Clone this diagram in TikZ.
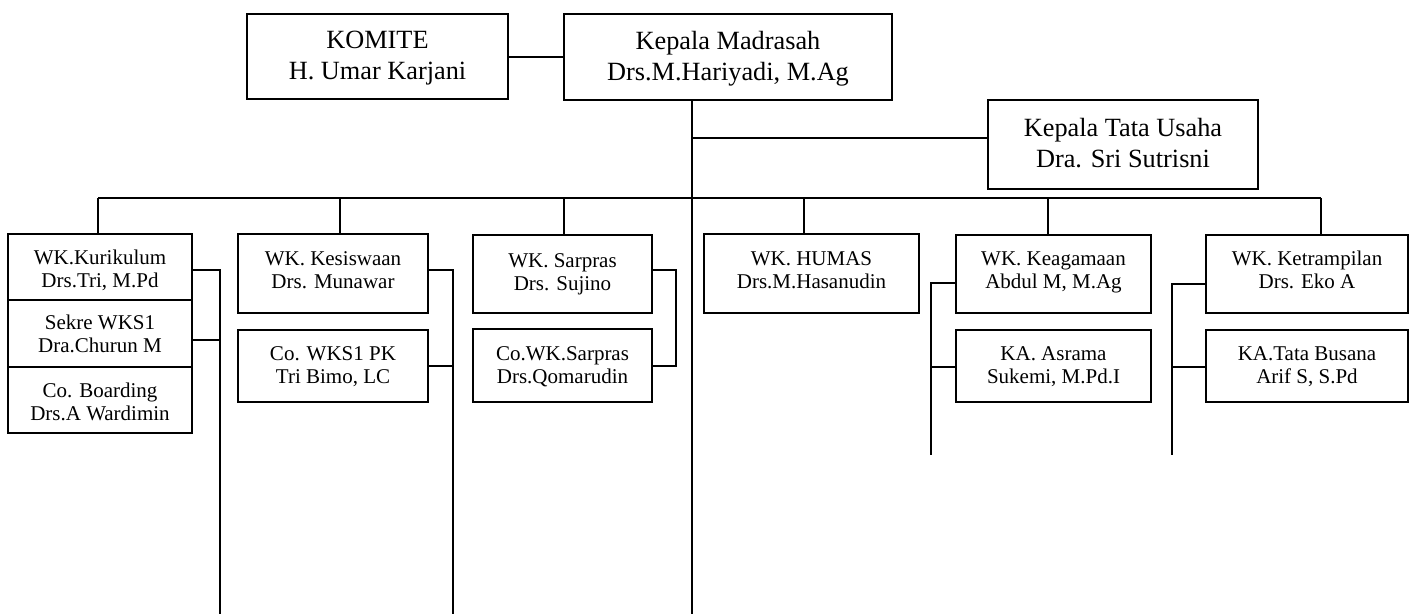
\documentclass[tikz,border=0pt]{standalone}
\usepackage{fontspec}
\setmainfont{Liberation Serif}
\tikzset{
  boxbase/.style={draw, line width=1.6pt, align=center, inner xsep=0pt, inner ysep=0pt, anchor=north},
  big/.style 2 args={boxbase, text height=#1, text depth=#2,
    font=\fontsize{26.3}{31.7}\selectfont},
  small/.style 2 args={boxbase, text height=#1, text depth=#2,
    font=\fontsize{21}{23.5}\selectfont},
  conn/.style={line width=1.6pt},
}
\begin{document}
\begin{tikzpicture}[x=1pt,y=-1pt]
\useasboundingbox (0,0) rectangle (1414,614);
% top level
\node[big={66pt}{19pt}, minimum width=261pt] (kom) at (377.5,13) {KOMITE\\H. Umar Karjani};
\node[big={67pt}{19pt}, minimum width=328pt] (kep) at (728,13) {Kepala Madrasah\\Drs.M.Hariyadi, M.Ag};
\node[big={68pt}{21pt}, minimum width=270pt] (ktu) at (1123,99) {Kepala Tata Usaha\\Dra. Sri Sutrisni};
% second level
\node[small={54pt}{12pt}, minimum width=184pt] (kur) at (100,233) {WK.Kurikulum\\Drs.Tri, M.Pd};
\node[small={53pt}{14pt}, minimum width=184pt] (sek) at (100,299) {Sekre WKS1\\Dra.Churun M};
\node[small={54pt}{12pt}, minimum width=184pt] (cob) at (100,366) {Co. Boarding\\Drs.A Wardimin};
\node[small={55pt}{24pt}, minimum width=190pt] (kes) at (333,233) {WK. Kesiswaan\\Drs. Munawar};
\node[small={54pt}{18pt}, minimum width=190pt] (cow) at (333,329) {Co. WKS1 PK\\Tri Bimo, LC};
\node[small={56pt}{22pt}, minimum width=179pt] (sar) at (562.5,234) {WK. Sarpras\\Drs. Sujino};
\node[small={55pt}{18pt}, minimum width=179pt] (cos) at (562.5,328) {Co.WK.Sarpras\\Drs.Qomarudin};
\node[small={55pt}{24pt}, minimum width=215pt] (hum) at (811.5,233) {WK. HUMAS\\Drs.M.Hasanudin};
\node[small={54pt}{24pt}, minimum width=195pt] (kea) at (1053.5,234) {WK. Keagamaan\\Abdul M, M.Ag};
\node[small={54pt}{18pt}, minimum width=195pt] (asr) at (1053.5,329) {KA. Asrama\\Sukemi, M.Pd.I};
\node[small={54pt}{24pt}, minimum width=202pt] (ket) at (1307,234) {WK. Ketrampilan\\Drs. Eko A};
\node[small={54pt}{18pt}, minimum width=202pt] (tbu) at (1307,329) {KA.Tata Busana\\Arif S, S.Pd};
% coordinates
\coordinate (mtop) at (692,99);
\coordinate (mbot) at (692,614);
\coordinate (tu) at (692,138);
\coordinate (b1) at (98,198);
\coordinate (b2) at (340,198);
\coordinate (b3) at (564,198);
\coordinate (b4) at (804,198);
\coordinate (b5) at (1048,198);
\coordinate (b6) at (1321,198);
\coordinate (s1) at (220,270);
\coordinate (s1b) at (220,614);
\coordinate (s2) at (453,270);
\coordinate (s2b) at (453,614);
\coordinate (s3) at (676,270);
\coordinate (s3b) at (676,366);
\coordinate (s4) at (931,283);
\coordinate (s4b) at (931,455);
\coordinate (s5) at (1172,284);
\coordinate (s5b) at (1172,455);
% connectors
\draw[conn] (kom.east |- 0,57) -- (kep.west |- 0,57);
\draw[conn] (mtop) -- (mbot);
\draw[conn] (tu) -- (tu -| ktu.west);
\draw[conn] (b1) -- (b6);
\draw[conn] (b1) -- (b1 |- kur.north);
\draw[conn] (b2) -- (b2 |- kes.north);
\draw[conn] (b3) -- (b3 |- sar.north);
\draw[conn] (b4) -- (b4 |- hum.north);
\draw[conn] (b5) -- (b5 |- kea.north);
\draw[conn] (b6) -- (b6 |- ket.north);
% side connectors
\draw[conn] (s1 -| kur.east) -- (s1) -- (s1b);
\draw[conn] (sek.east |- 0,340) -- (220,340);
\draw[conn] (s2 -| kes.east) -- (s2) -- (s2b);
\draw[conn] (cow.east |- 0,366) -- (453,366);
\draw[conn] (s3 -| sar.east) -- (s3) -- (s3b) -- (s3b -| cos.east);
\draw[conn] (s4 -| kea.west) -- (s4) -- (s4b);
\draw[conn] (asr.west |- 0,367) -- (931,367);
\draw[conn] (s5 -| ket.west) -- (s5) -- (s5b);
\draw[conn] (tbu.west |- 0,367) -- (1172,367);
\end{tikzpicture}
\end{document}
